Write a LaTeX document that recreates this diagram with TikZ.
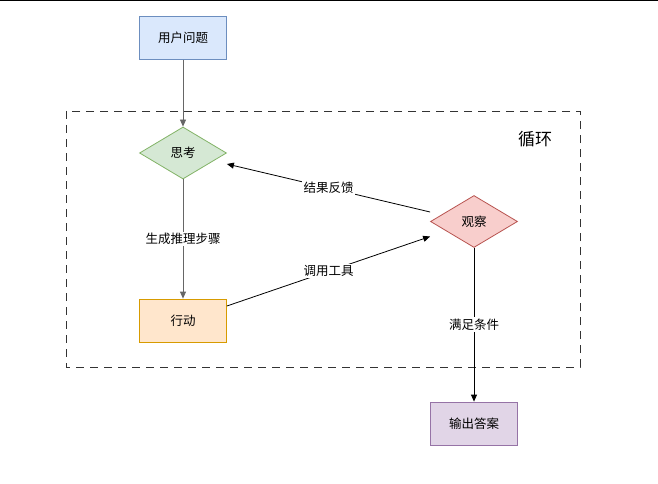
\documentclass[tikz,border=0pt]{standalone}
\usepackage{fontspec}
\setmainfont{Noto Sans CJK SC}
\usetikzlibrary{shapes.geometric,arrows.meta}
\definecolor{bfill}{HTML}{DAE8FC}\definecolor{bdraw}{HTML}{6C8EBF}
\definecolor{gfill}{HTML}{D5E8D4}\definecolor{gdraw}{HTML}{82B366}
\definecolor{rfill}{HTML}{F8CECC}\definecolor{rdraw}{HTML}{B85450}
\definecolor{ofill}{HTML}{FFE6CC}\definecolor{odraw}{HTML}{D79B00}
\definecolor{pfill}{HTML}{E1D5E7}\definecolor{pdraw}{HTML}{9673A6}
\tikzset{
  boxnode/.style={draw, line width=0.8pt, minimum width=87pt, minimum height=43pt, inner sep=0pt, font=\fontsize{12.5}{14}\selectfont},
  dianode/.style={draw, line width=0.8pt, diamond, aspect=1.67, minimum width=87pt, minimum height=52pt, inner sep=0pt, font=\fontsize{12.5}{14}\selectfont},
  conn/.style={line width=0.8pt, -{Triangle[length=7pt,width=6pt]}},
  lbl/.style={fill=white, inner sep=1.5pt, font=\fontsize{12.5}{14}\selectfont}
}
\begin{document}
\begin{tikzpicture}[x=1pt,y=-1pt]
\useasboundingbox (0,0) rectangle (658,484);
\fill[white] (0,0) rectangle (658,484);
\draw[line width=1.5pt] (0,0.75) -- (658,0.75);
\draw[dashed, dash pattern=on 8pt off 6pt, line width=0.9pt, black!80] (66,111) rectangle (580,367);
\node[font=\fontsize{17}{20}\selectfont] (loop) at (535,139) {循环};
\node[boxnode, fill=bfill, draw=bdraw] (user) at (183,38) {用户问题};
\node[dianode, fill=gfill, draw=gdraw] (think) at (183,153) {思考};
\node[boxnode, fill=ofill, draw=odraw] (act) at (183,320.5) {行动};
\node[dianode, fill=rfill, draw=rdraw] (obs) at (474,221.5) {观察};
\node[boxnode, fill=pfill, draw=pdraw] (out) at (474,423.5) {输出答案};
\draw[conn, draw=black!60] (user) -- (think);
\draw[conn, draw=black!60] (think) -- node[lbl, text=black] {生成推理步骤} (act);
\draw[conn] ([yshift=14.5pt]act.east) -- node[lbl] {调用工具} ([yshift=-15pt]obs.west);
\draw[conn] ([yshift=9.5pt]obs.west) -- node[lbl] {结果反馈} ([yshift=-11pt]think.east);
\draw[conn] (obs) -- node[lbl] {满足条件} (out);
\end{tikzpicture}
\end{document}
